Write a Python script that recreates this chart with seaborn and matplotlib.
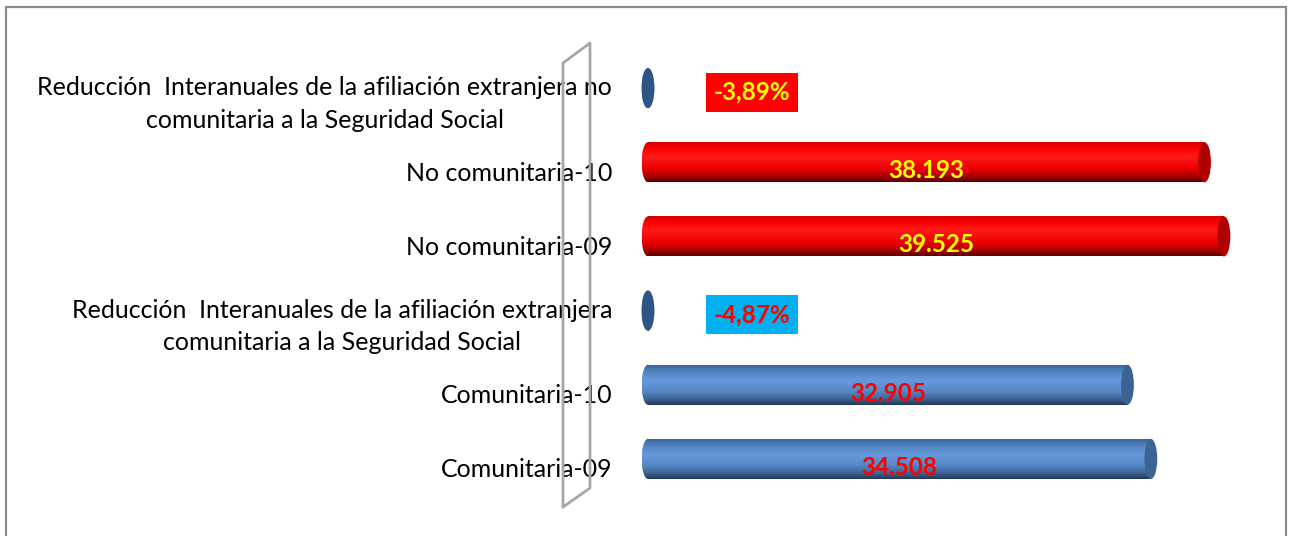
import matplotlib
matplotlib.use("Agg")
import matplotlib.pyplot as plt
import matplotlib.patches as mpatches
from matplotlib.colors import LinearSegmentedColormap
from matplotlib.lines import Line2D
from matplotlib.transforms import ScaledTranslation
import numpy as np
import pandas as pd
import seaborn as sns

# data, top to bottom as in the chart
categories = [
    "Reducción  Interanuales de la afiliación extranjera no\ncomunitaria a la Seguridad Social",
    "No comunitaria-10",
    "No comunitaria-09",
    "Reducción  Interanuales de la afiliación extranjera\ncomunitaria a la Seguridad Social",
    "Comunitaria-10",
    "Comunitaria-09",
]
values = [-3.89, 38193, 39525, -4.87, 32905, 34508]
is_pct = [True, False, False, True, False, False]
groups = ["pct_no", "no", "no", "pct_com", "com", "com"]

df = pd.DataFrame({"cat": categories, "val": values, "grp": groups})

# styles
cmaps = {
    "no": LinearSegmentedColormap.from_list("r", [(0, "#C80000"), (0.18, "#FF0000"), (0.38, "#FF1A1A"),
                                                   (0.65, "#F00000"), (0.85, "#B00000"), (1, "#5A0000")]),
    "com": LinearSegmentedColormap.from_list("b", [(0, "#3A6192"), (0.2, "#5286C6"), (0.4, "#6699DB"),
                                                    (0.65, "#5889C8"), (0.85, "#3F6696"), (1, "#223A5C")]),
}
cmaps["pct_no"] = cmaps["com"]
cmaps["pct_com"] = cmaps["com"]
cap_colors = {"no": "#B00000", "com": "#3C6394", "pct_no": "#2F5584", "pct_com": "#2F5584"}
text_colors = {"no": "#FFFF00", "com": "#FF0000", "pct_no": "#FFFF00", "pct_com": "#FF0000"}
box_colors = {"pct_no": "#FF0000", "pct_com": "#00B0F0"}

sns.set_style("white")
plt.rcParams["font.family"] = ["Lato", "DejaVu Sans"]

W, H = 1293, 536
px_per_unit = 612 / 42000
xmin, xmax = -1000, 42000
ax_left = 648 + xmin * px_per_unit

fig = plt.figure(figsize=(W / 100, H / 100), dpi=100)
ax = fig.add_axes([ax_left / W, (H - 496) / H, (xmax - xmin) * px_per_unit / W, 445 / H])

sns.barplot(data=df, x="val", y="cat", hue="cat", order=categories, hue_order=categories,
            palette=["#ffffff"] * len(categories), legend=False, width=0.54, orient="h", ax=ax)

cap_w = 880
grad = np.linspace(0, 1, 80).reshape(-1, 1)

for p in list(ax.patches):
    x0 = p.get_x()
    w = p.get_width()
    h = p.get_height()
    yc = p.get_y() + h / 2
    row = int(round(yc))
    g = groups[row]
    p.set_facecolor("none")
    p.set_edgecolor("none")
    lo, hi = min(x0, x0 + w), max(x0, x0 + w)
    im = ax.imshow(grad, cmap=cmaps[g], aspect="auto", origin="upper",
                   extent=(lo, hi, yc + h / 2, yc - h / 2), zorder=2)
    im.set_clip_path(p)
    # rounded left end
    left = mpatches.Ellipse((lo, yc), cap_w, h, transform=ax.transData)
    im2 = ax.imshow(grad, cmap=cmaps[g], aspect="auto", origin="upper",
                    extent=(lo - cap_w / 2, lo + cap_w / 2, yc + h / 2, yc - h / 2), zorder=2)
    im2.set_clip_path(left)
    # end cap
    ax.add_patch(mpatches.Ellipse((x0 + w, yc), cap_w, h, facecolor=cap_colors[g],
                                  edgecolor="none", zorder=4, clip_on=False))

# value labels
for row, (v, pct, g) in enumerate(zip(values, is_pct, groups)):
    if pct:
        txt = f"{v:.2f}".replace(".", ",") + "%"
        ax.annotate(txt, (v, row), xytext=(75, -3), textcoords="offset points",
                    ha="center", va="center", fontsize=17.5, fontweight="bold",
                    color=text_colors[g], zorder=6, annotation_clip=False,
                    bbox=dict(boxstyle="square,pad=0.32", fc=box_colors[g], ec="none"))
    else:
        txt = f"{v:,.0f}".replace(",", ".")
        ax.annotate(txt, (v / 2, row), xytext=(0, -6), textcoords="offset points",
                    ha="center", va="center", fontsize=17.5, fontweight="bold",
                    color=text_colors[g], zorder=6)

ax.set_xlim(xmin, xmax)
ax.set_ylim(len(categories) - 0.5, -0.5)
ax.set_xlabel("")
ax.set_ylabel("")
ax.set_xticks([])
# labels end at x=612 px
ax.tick_params(axis="y", length=0, pad=(ax_left - 612) * 0.72, labelsize=18, labelcolor="black")
for lab in ax.get_yticklabels():
    lab.set_multialignment("center")
    lab.set_linespacing(1.5)
    lab.set_transform(lab.get_transform() + ScaledTranslation(0, -0.09, fig.dpi_scale_trans))
sns.despine(ax=ax, left=True, bottom=True)

# 3D wall outline of the category axis
def fx(x):
    return x / W

def fy(y):
    return 1 - y / H

wall = [(563, 507), (563, 63), (590, 43), (590, 488), (563, 507)]
fig.add_artist(Line2D([fx(a) for a, b in wall], [fy(b) for a, b in wall],
                      transform=fig.transFigure, color="#A6A6A6", lw=2, zorder=5))

# outer chart frame
fig.add_artist(mpatches.Rectangle((fx(6), fy(545)), fx(1286) - fx(6), fy(7) - fy(545),
                                  transform=fig.transFigure, fill=False, ec="#8C8C8C", lw=1.6))

fig.savefig("out.png", dpi=100)
